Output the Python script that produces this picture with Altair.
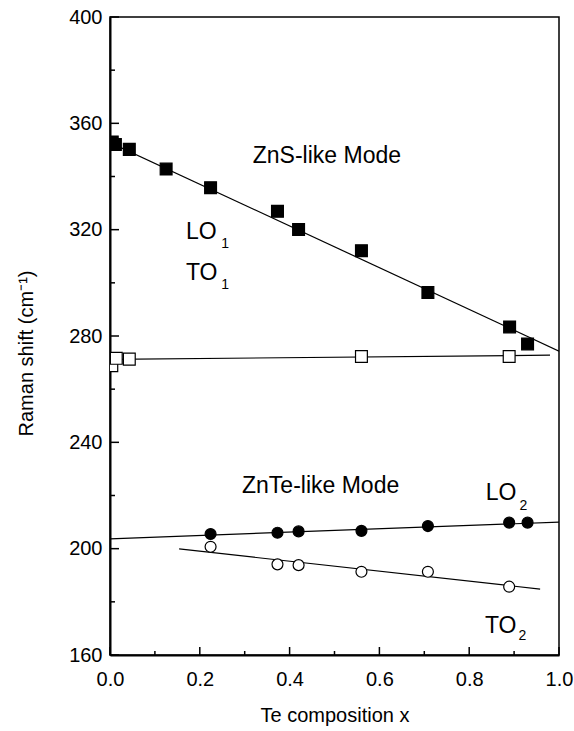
import altair as alt
import pandas as pd

# ---- data ----
lo1_x = [0.005, 0.012, 0.043, 0.125, 0.224, 0.373, 0.42, 0.56, 0.708, 0.89, 0.93]
lo1_y = [353.0, 352.0, 350.2, 342.8, 335.8, 326.9, 320.1, 312.1, 296.4, 283.4, 277.0]
to1_x = [0.004, 0.014, 0.043, 0.56, 0.889]
to1_y = [268.8, 271.6, 271.3, 272.3, 272.3]
lo2_x = [0.224, 0.373, 0.42, 0.56, 0.708, 0.889, 0.93]
lo2_y = [205.5, 206.0, 206.5, 206.7, 208.5, 209.8, 209.8]
to2_x = [0.224, 0.373, 0.42, 0.56, 0.708, 0.889]
to2_y = [200.7, 194.1, 193.8, 191.3, 191.3, 185.7]

fit_names = ["LO1", "LO1", "TO1", "TO1", "LO2", "LO2", "TO2", "TO2"]
fit_x = [0.0, 1.0, 0.0, 0.98, 0.0, 1.0, 0.154, 0.958]
fit_y = [352.8, 274.3, 271.2, 272.8, 203.7, 210.0, 199.9, 184.8]

label_text = ["ZnS-like Mode", "ZnTe-like Mode", "LO", "TO", "LO", "TO"]
label_x = [0.318, 0.294, 0.169, 0.169, 0.837, 0.835]
label_y = [345.0, 221.0, 316.5, 301.0, 218.3, 168.3]
sub_text = ["1", "1", "2", "2"]
sub_x = [0.248, 0.248, 0.912, 0.910]
sub_y = [313.1, 297.7, 214.5, 165.6]

x_major = [0.0, 0.2, 0.4, 0.6, 0.8, 1.0]
x_minor = [0.1, 0.3, 0.5, 0.7, 0.9]
y_major = [160, 200, 240, 280, 320, 360, 400]
y_minor = [180, 220, 260, 300, 340, 380]

W, H = 449, 638
FONT = "Liberation Sans"

xs = alt.Scale(domain=[0, 1], nice=False, zero=False, padding=0)
ys = alt.Scale(domain=[160, 400], nice=False, zero=False, padding=0)
xa = alt.Axis(values=x_major, format=".1f", title="Te composition x")
ya = alt.Axis(values=y_major, format="d", title="Raman shift (cm⁻¹)", titleY=336)


def X(f):
    return alt.X(f, type="quantitative", scale=xs, axis=xa)


def Y(f):
    return alt.Y(f, type="quantitative", scale=ys, axis=ya)


fits = pd.DataFrame({"name": fit_names, "x": fit_x, "y": fit_y})
lines = alt.Chart(fits).mark_line(color="black", strokeWidth=1.2, clip=True).encode(
    x=X("x"), y=Y("y"), detail="name:N"
)


def pts(xv, yv, shape, filled):
    df = pd.DataFrame({"x": xv, "y": yv})
    return alt.Chart(df).mark_point(
        shape=shape,
        size=140 if shape == "square" else 120,
        filled=True,
        fill="black" if filled else "white",
        stroke="black",
        strokeWidth=1.2,
        opacity=1,
        clip=True,
    ).encode(x=X("x"), y=Y("y"))


p_lo1 = pts(lo1_x, lo1_y, "square", True)
p_to1 = pts(to1_x, to1_y, "square", False)
p_lo2 = pts(lo2_x, lo2_y, "circle", True)
p_to2 = pts(to2_x, to2_y, "circle", False)

labels = alt.Chart(pd.DataFrame({"t": label_text, "x": label_x, "y": label_y})).mark_text(
    align="left", baseline="alphabetic", font=FONT, fontSize=23, color="black"
).encode(x=X("x"), y=Y("y"), text="t:N")

subs = alt.Chart(pd.DataFrame({"t": sub_text, "x": sub_x, "y": sub_y})).mark_text(
    align="left", baseline="alphabetic", font=FONT, fontSize=14, color="black"
).encode(x=X("x"), y=Y("y"), text="t:N")

xt_major = alt.Chart(pd.DataFrame({"v": x_major})).mark_rule(color="black", strokeWidth=1.5).encode(
    x=X("v"), y=alt.value(H), y2=alt.value(H - 8)
)
xt_minor = alt.Chart(pd.DataFrame({"v": x_minor})).mark_rule(color="black", strokeWidth=1.5).encode(
    x=X("v"), y=alt.value(H), y2=alt.value(H - 4)
)
yt_major = alt.Chart(pd.DataFrame({"v": y_major})).mark_rule(color="black", strokeWidth=1.5).encode(
    y=Y("v"), x=alt.value(0), x2=alt.value(9)
)
yt_minor = alt.Chart(pd.DataFrame({"v": y_minor})).mark_rule(color="black", strokeWidth=1.5).encode(
    y=Y("v"), x=alt.value(0), x2=alt.value(5)
)

chart = alt.layer(
    lines, p_lo1, p_to1, p_lo2, p_to2, labels, subs,
    xt_major, xt_minor, yt_major, yt_minor,
).properties(
    width=W, height=H,
    autosize=alt.AutoSizeParams(type="none"),
    padding={"left": 110, "top": 17, "right": 15, "bottom": 76},
    background="white",
).configure_view(
    stroke="black", strokeWidth=1.5
).configure_axis(
    grid=False, ticks=False, domainColor="black", domainWidth=2,
    labelFlush=False, labelOverlap=False,
    labelFont=FONT, labelFontSize=20, labelColor="black",
    titleFont=FONT, titleFontSize=20, titleColor="black", titleFontWeight="normal",
).configure_axisX(
    labelPadding=14, titlePadding=16,
).configure_axisY(
    labelPadding=8, titlePadding=32,
)

chart.save("out.html", embed_options={"renderer": "svg", "actions": False})
